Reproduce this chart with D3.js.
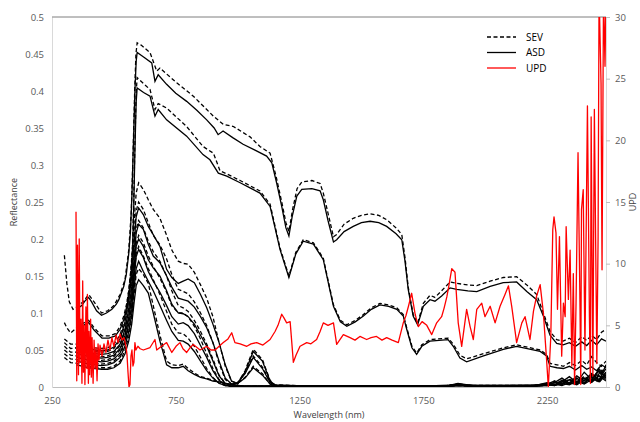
<!DOCTYPE html>
<html>
<head>
<meta charset="utf-8">
<script src="https://cdn.jsdelivr.net/npm/d3@7"></script>
<style>
  body { margin: 0; background: #fff; }
  svg { display: block; font-family: "Open Sans", sans-serif; }
</style>
</head>
<body>
<div id="chart"></div>
<script>
// --- data (wavelength nm, reflectance) ---
const xTicks = [250, 750, 1250, 1750, 2250];
const yTicks = [0, 0.05, 0.1, 0.15, 0.2, 0.25, 0.3, 0.35, 0.4, 0.45, 0.5];
const y2Ticks = [0, 5, 10, 15, 20, 25, 30];

// bright targets, ASD / SEV
const asdA1 = [[350,0.105],[370,0.11],[385,0.117],[398,0.121],[410,0.115],[430,0.103],[450,0.097],[470,0.1],[492,0.105],[510,0.112],[520,0.118],[540,0.136],[550,0.152],[560,0.18],[567,0.21],[573,0.26],[579,0.33],[585,0.4],[590,0.44],[594,0.452],[620,0.446],[653,0.438],[666,0.413],[679,0.422],[713,0.409],[750,0.397],[794,0.386],[835,0.374],[875,0.361],[905,0.35],[921,0.341],[941,0.346],[980,0.337],[1022,0.328],[1070,0.32],[1117,0.312],[1138,0.303],[1158,0.275],[1178,0.244],[1195,0.215],[1207,0.204],[1220,0.23],[1239,0.258],[1259,0.267],[1300,0.268],[1333,0.265],[1346,0.253],[1365,0.225],[1387,0.196],[1400,0.199],[1430,0.21],[1467,0.217],[1500,0.222],[1535,0.224],[1570,0.222],[1602,0.217],[1640,0.207],[1663,0.199],[1676,0.17],[1689,0.132],[1709,0.096],[1727,0.084],[1750,0.109],[1777,0.118],[1797,0.116],[1824,0.123],[1858,0.134],[1885,0.132],[1930,0.13],[1966,0.129],[2020,0.136],[2073,0.141],[2127,0.142],[2168,0.129],[2208,0.118],[2235,0.096],[2262,0.07],[2289,0.059],[2315,0.057],[2340,0.06],[2365,0.055],[2390,0.061],[2410,0.056],[2430,0.063],[2450,0.057],[2470,0.065],[2488,0.062]];
const sevA1 = [[300,0.178],[310,0.14],[320,0.115],[335,0.105],[350,0.108],[375,0.115],[398,0.125],[420,0.115],[450,0.1],[475,0.103],[500,0.11],[525,0.125],[545,0.145],[560,0.185],[570,0.235],[577,0.31],[584,0.4],[589,0.45],[594,0.465],[610,0.462],[646,0.452],[673,0.427],[686,0.431],[754,0.411],[821,0.393],[902,0.366],[942,0.355],[983,0.352],[1050,0.338],[1090,0.325],[1131,0.316],[1155,0.285],[1178,0.25],[1195,0.222],[1207,0.21],[1222,0.24],[1240,0.268],[1259,0.277],[1300,0.279],[1333,0.275],[1346,0.262],[1365,0.235],[1387,0.203],[1400,0.206],[1430,0.22],[1467,0.228],[1500,0.232],[1535,0.234],[1570,0.232],[1602,0.226],[1640,0.215],[1663,0.206],[1676,0.175],[1689,0.135],[1709,0.098],[1727,0.086],[1750,0.113],[1777,0.124],[1797,0.121],[1824,0.13],[1858,0.142],[1885,0.14],[1930,0.138],[1966,0.137],[2020,0.143],[2073,0.148],[2127,0.149],[2168,0.138],[2208,0.125],[2235,0.1],[2262,0.075],[2289,0.064],[2315,0.062],[2340,0.066],[2365,0.06],[2390,0.068],[2410,0.063],[2430,0.07],[2450,0.064],[2470,0.074],[2488,0.078]];
const asdA2 = [[350,0.077],[375,0.083],[398,0.087],[420,0.077],[452,0.066],[480,0.066],[506,0.069],[525,0.078],[540,0.091],[552,0.108],[560,0.123],[568,0.145],[575,0.18],[580,0.24],[585,0.32],[590,0.385],[594,0.404],[620,0.398],[646,0.393],[666,0.366],[679,0.375],[713,0.361],[794,0.339],[860,0.314],[888,0.307],[922,0.289],[956,0.285],[1010,0.276],[1050,0.269],[1090,0.262],[1131,0.244],[1171,0.186],[1207,0.148],[1235,0.18],[1265,0.197],[1306,0.193],[1346,0.172],[1370,0.135],[1387,0.109],[1415,0.088],[1441,0.082],[1475,0.088],[1508,0.096],[1540,0.105],[1575,0.111],[1610,0.109],[1643,0.105],[1669,0.096],[1683,0.078],[1704,0.053],[1723,0.044],[1744,0.055],[1777,0.062],[1850,0.064],[1871,0.055],[1898,0.039],[1925,0.034],[1993,0.042],[2073,0.051],[2127,0.055],[2222,0.048],[2248,0.042],[2262,0.028],[2290,0.026],[2316,0.025],[2340,0.028],[2365,0.023],[2390,0.029],[2410,0.024],[2430,0.027],[2450,0.022],[2470,0.03],[2488,0.026]];
const sevA2 = [[300,0.087],[310,0.08],[325,0.073],[350,0.08],[375,0.086],[398,0.09],[420,0.08],[452,0.069],[480,0.069],[506,0.072],[525,0.082],[540,0.096],[552,0.113],[560,0.13],[568,0.155],[575,0.19],[580,0.25],[585,0.33],[590,0.398],[594,0.418],[620,0.41],[646,0.402],[666,0.375],[679,0.383],[713,0.377],[794,0.352],[860,0.325],[902,0.316],[929,0.292],[956,0.288],[1010,0.279],[1050,0.272],[1090,0.265],[1131,0.247],[1171,0.188],[1207,0.15],[1235,0.182],[1265,0.199],[1306,0.195],[1346,0.174],[1370,0.137],[1387,0.111],[1415,0.09],[1441,0.084],[1475,0.09],[1508,0.098],[1540,0.107],[1575,0.113],[1610,0.111],[1643,0.107],[1669,0.098],[1683,0.08],[1704,0.055],[1723,0.046],[1744,0.057],[1777,0.064],[1850,0.066],[1871,0.058],[1898,0.043],[1925,0.038],[1993,0.045],[2073,0.053],[2127,0.057],[2222,0.05],[2248,0.044],[2262,0.032],[2290,0.03],[2316,0.028],[2340,0.033],[2365,0.029],[2390,0.036],[2410,0.03],[2430,0.041],[2450,0.033],[2470,0.028],[2488,0.035]];

// dark targets share one wavelength grid
const gridB = [350,375,400,425,450,475,500,525,545,560,572,582,590,600,619,639,659,686,713,734,760,780,800,825,850,875,900,925,950,975,1000,1030,1063,1100,1131,1150,
  1300,1500,1700,1850,1890,1950,2100,2200,2250,2280,2310,2340,2370,2400,2430,2460,2488];
const gridSev = [300, 325].concat(gridB);

const asdB6 = [0.055,0.053,0.052,0.05,0.049,0.05,0.054,0.065,0.088,0.118,0.15,0.195,0.23,0.242,0.233,0.217,0.206,0.19,0.159,0.148,0.14,0.143,0.146,0.141,0.125,0.107,0.085,0.06,0.03,0.008,0.004,0.02,0.048,0.035,0.008,0.003,
  0.001,0.001,0.001,0.001,0.002,0.001,0.001,0.001,0.003,0.002,0.005,0.003,0.008,0.004,0.01,0.022,0.012];
const sevB6 = [0.065,0.058,0.058,0.056,0.055,0.053,0.052,0.053,0.058,0.07,0.095,0.13,0.17,0.225,0.262,0.276,0.267,0.253,0.24,0.228,0.205,0.185,0.17,0.167,0.166,0.155,0.138,0.12,0.095,0.06,0.028,0.008,0.005,0.022,0.051,0.037,0.009,0.003,
  0.001,0.001,0.001,0.002,0.003,0.001,0.001,0.002,0.002,0.006,0.003,0.009,0.004,0.012,0.007,0.016,0.028];
const asdB5 = [0.05,0.048,0.046,0.045,0.044,0.045,0.048,0.058,0.078,0.105,0.135,0.175,0.208,0.22,0.213,0.193,0.177,0.168,0.15,0.135,0.12,0.118,0.116,0.108,0.095,0.08,0.06,0.035,0.012,0.004,0.006,0.018,0.04,0.025,0.006,0.002,
  0.001,0.001,0.001,0.001,0.002,0.001,0.001,0.001,0.002,0.004,0.002,0.006,0.003,0.009,0.018,0.008,0.03];
const sevB5 = [0.06,0.052,0.053,0.051,0.049,0.048,0.047,0.048,0.052,0.063,0.085,0.118,0.155,0.205,0.238,0.25,0.24,0.222,0.205,0.192,0.173,0.152,0.132,0.129,0.126,0.115,0.1,0.083,0.06,0.032,0.01,0.004,0.006,0.02,0.042,0.027,0.007,0.002,
  0.001,0.001,0.001,0.001,0.002,0.001,0.002,0.001,0.004,0.002,0.007,0.004,0.011,0.005,0.009,0.02,0.01];
const asdB4 = [0.045,0.043,0.041,0.04,0.039,0.04,0.043,0.052,0.07,0.095,0.122,0.16,0.19,0.2,0.19,0.172,0.161,0.15,0.13,0.112,0.1,0.099,0.095,0.085,0.07,0.055,0.035,0.015,0.005,0.003,0.005,0.012,0.026,0.016,0.004,0.001,
  0.001,0.001,0.001,0.001,0.003,0.001,0.001,0.002,0.005,0.002,0.007,0.014,0.006,0.02,0.01,0.024,0.013];
const sevB4 = [0.055,0.047,0.047,0.045,0.043,0.042,0.041,0.042,0.046,0.056,0.076,0.105,0.137,0.18,0.213,0.225,0.215,0.197,0.183,0.17,0.15,0.13,0.11,0.107,0.102,0.09,0.075,0.058,0.038,0.016,0.005,0.003,0.005,0.013,0.028,0.018,0.004,0.001,
  0.001,0.001,0.001,0.002,0.003,0.002,0.001,0.002,0.003,0.007,0.003,0.01,0.005,0.015,0.007,0.026,0.015];
const asdB3 = [0.04,0.038,0.036,0.035,0.034,0.035,0.038,0.046,0.063,0.085,0.11,0.148,0.176,0.186,0.175,0.156,0.143,0.128,0.11,0.095,0.085,0.087,0.083,0.072,0.056,0.04,0.022,0.009,0.003,0.001,0.001,0.001,0.001,0.001,0.001,0.001,
  0.001,0.001,0.001,0.001,0.003,0.001,0.001,0.002,0.003,0.006,0.012,0.005,0.015,0.008,0.018,0.01,0.025];
const sevB3 = [0.05,0.043,0.042,0.04,0.038,0.037,0.036,0.037,0.041,0.05,0.068,0.093,0.122,0.163,0.194,0.205,0.195,0.177,0.163,0.147,0.128,0.11,0.1,0.1,0.095,0.082,0.065,0.045,0.025,0.01,0.003,0.001,0.001,0.001,0.001,0.001,0.001,0.001,
  0.001,0.001,0.001,0.001,0.003,0.001,0.001,0.001,0.004,0.003,0.008,0.004,0.012,0.006,0.016,0.009,0.02];
const asdB2 = [0.035,0.033,0.031,0.03,0.029,0.03,0.033,0.04,0.055,0.075,0.098,0.135,0.16,0.17,0.156,0.143,0.13,0.11,0.09,0.075,0.063,0.062,0.058,0.048,0.035,0.022,0.012,0.005,0.002,0.001,0.001,0.001,0.001,0.001,0.001,0.001,
  0.001,0.001,0.001,0.002,0.004,0.002,0.002,0.002,0.006,0.003,0.009,0.004,0.012,0.005,0.014,0.007,0.02];
const sevB2 = [0.045,0.038,0.037,0.035,0.033,0.032,0.031,0.032,0.035,0.043,0.06,0.082,0.108,0.15,0.18,0.19,0.177,0.16,0.145,0.125,0.102,0.085,0.073,0.072,0.066,0.055,0.04,0.025,0.013,0.005,0.002,0.001,0.001,0.001,0.001,0.001,0.001,0.001,
  0.001,0.001,0.001,0.002,0.004,0.002,0.001,0.002,0.003,0.008,0.004,0.011,0.005,0.013,0.008,0.018,0.009];
const asdB1 = [0.03,0.028,0.026,0.025,0.024,0.024,0.026,0.032,0.045,0.062,0.085,0.115,0.137,0.145,0.137,0.127,0.1,0.062,0.03,0.026,0.026,0.028,0.022,0.017,0.013,0.011,0.008,0.007,0.005,0.003,0.002,0.001,0.001,0.001,0.001,0.001,
  0.001,0.001,0.001,0.002,0.005,0.002,0.002,0.003,0.004,0.008,0.003,0.01,0.005,0.012,0.006,0.015,0.008];
const sevB1 = [0.04,0.033,0.032,0.03,0.028,0.027,0.026,0.026,0.028,0.035,0.05,0.068,0.093,0.127,0.152,0.16,0.152,0.14,0.11,0.07,0.035,0.03,0.029,0.031,0.025,0.019,0.014,0.012,0.009,0.007,0.005,0.003,0.002,0.001,0.001,0.001,0.001,0.001,
  0.001,0.001,0.001,0.002,0.004,0.002,0.002,0.002,0.005,0.003,0.009,0.004,0.011,0.005,0.013,0.006,0.017];

// UPD on secondary axis (wavelength nm, UPD)
const upd = [[347,14.2],[350,0.5],[353,11.5],[357,1],[360,12],[363,2],[367,5.5],[371,0.3],[374,8.6],[377,1.2],[380,5],[383,0.2],[387,6.5],[391,1.5],[393,7.5],[397,0.3],[399,4.5],[402,1],[406,5.5],[409,0.8],[412,4],[416,0.3],[420,3.8],[424,1.5],[428,3.2],[432,0.5],[436,3.5],[440,2.2],[444,3.4],[452,2.5],[460,3.5],[468,2.8],[476,3.8],[484,3.0],[492,4.0],[500,3.3],[509,4.2],[517,3.6],[525,4.3],[533,3.8],[541,4.0],[549,3.3],[553,2.6],[557,1.2],[561,0],[565,0.2],[569,2.5],[573,3.0],[577,1.7],[581,2.0],[585,3.6],[589,3.0],[597,3.3],[606,3.1],[619,3.0],[646,3.2],[666,3.85],[673,3.0],[686,3.2],[713,3.6],[734,2.8],[751,3.3],[767,3.6],[779,3.1],[794,2.8],[808,3.2],[821,3.45],[848,3.0],[875,3.3],[892,3.0],[909,3.0],[925,3.3],[942,3.6],[961,3.9],[976,4.4],[989,3.6],[1010,3.5],[1037,3.3],[1054,3.5],[1077,3.6],[1102,3.4],[1131,3.85],[1151,4.5],[1163,5.0],[1178,5.9],[1187,5.6],[1198,5.2],[1212,5.3],[1225,2.0],[1236,2.6],[1252,3.3],[1279,3.6],[1296,3.5],[1319,3.85],[1333,4.5],[1346,5.2],[1365,5.0],[1387,5.2],[1400,3.45],[1427,4.25],[1454,4.0],[1474,3.8],[1494,4.1],[1521,3.85],[1539,4.0],[1561,4.1],[1583,3.8],[1602,4.0],[1624,3.8],[1649,3.6],[1669,5.2],[1680,5.8],[1690,6.55],[1703,7.6],[1717,5.9],[1730,4.9],[1745,5.3],[1764,5.0],[1784,4.25],[1804,5.2],[1824,5.7],[1834,6.4],[1845,7.3],[1854,8.3],[1865,9.6],[1878,9.3],[1891,5.2],[1905,3.3],[1925,6.3],[1939,4.9],[1952,3.85],[1966,6.3],[1986,6.8],[1999,5.7],[2020,6.55],[2040,5.2],[2060,6.55],[2080,7.5],[2094,8.2],[2107,6.55],[2127,3.6],[2148,5.2],[2161,5.7],[2181,3.85],[2195,6.15],[2208,7.4],[2222,8.3],[2235,6.0],[2248,2.2],[2255,0],[2265,4.1],[2273,12.75],[2278,13.8],[2286,12.5],[2292,6.3],[2300,12.2],[2309,2.5],[2316,6.8],[2323,5.7],[2327,13.0],[2336,7.1],[2343,11.1],[2350,1.7],[2356,9.2],[2361,0.2],[2367,6.8],[2375,19.0],[2383,6.5],[2386,0.2],[2389,14.4],[2396,16.0],[2403,3.0],[2413,22.8],[2421,5.7],[2425,0.3],[2428,21.9],[2435,0.9],[2441,22.5],[2451,1.9],[2456,12],[2460,32],[2468,24.6],[2472,9.5],[2478,32],[2484,26],[2488,32]];

const legendItems = [
  { label: 'SEV', color: '#000', dash: '4,2.5' },
  { label: 'ASD', color: '#000', dash: null },
  { label: 'UPD', color: '#ff0000', dash: null }
];

// --- chart ---
const width = 640;
const height = 422;
const plot = { left: 52, right: 606, top: 17, bottom: 387 };

const svg = d3.select('#chart').append('svg')
  .attr('width', width)
  .attr('height', height);

const x = d3.scaleLinear().domain([250, 2488]).range([plot.left, plot.right]);
const y = d3.scaleLinear().domain([0, 0.5]).range([plot.bottom, plot.top]);
const y2 = d3.scaleLinear().domain([0, 30]).range([plot.bottom, plot.top]);

svg.append('defs').append('clipPath').attr('id', 'plot-clip')
  .append('rect')
  .attr('x', plot.left).attr('y', plot.top)
  .attr('width', plot.right - plot.left).attr('height', plot.bottom - plot.top);

// Axes
const fmt = d => String(+d.toFixed(2));

const gx = svg.append('g')
  .attr('transform', `translate(0,${plot.bottom})`)
  .call(d3.axisBottom(x).tickValues(xTicks).tickFormat(fmt).tickSize(0).tickPadding(10));
gx.select('.domain').attr('stroke', '#bfbfbf');

const gy = svg.append('g')
  .attr('transform', `translate(${plot.left},0)`)
  .call(d3.axisLeft(y).tickValues(yTicks).tickFormat(fmt).tickSize(0).tickPadding(8));
gy.select('.domain').attr('stroke', '#d9d9d9');

const gy2 = svg.append('g')
  .attr('transform', `translate(${plot.right},0)`)
  .call(d3.axisRight(y2).tickValues(y2Ticks).tickFormat(fmt).tickSizeInner(4).tickSizeOuter(0).tickPadding(5));
gy2.select('.domain').attr('stroke', '#d9d9d9');
gy2.selectAll('.tick line').attr('stroke', '#bfbfbf');

svg.selectAll('.tick text')
  .attr('fill', '#595959')
  .attr('font-size', '9.5px')
  .attr('font-family', '"Open Sans", sans-serif');

// top border
svg.append('line')
  .attr('x1', plot.left).attr('x2', plot.right)
  .attr('y1', plot.top).attr('y2', plot.top)
  .attr('stroke', '#7f7f7f').attr('stroke-width', 1);

// Axis titles
svg.append('text')
  .attr('transform', `translate(17,${(plot.top + plot.bottom) / 2}) rotate(-90)`)
  .attr('text-anchor', 'middle')
  .attr('font-size', '9px')
  .attr('fill', '#404040')
  .text('Reflectance');

svg.append('text')
  .attr('transform', `translate(636,${(plot.top + plot.bottom) / 2}) rotate(-90)`)
  .attr('text-anchor', 'middle')
  .attr('font-size', '9px')
  .attr('fill', '#404040')
  .text('UPD');

svg.append('text')
  .attr('x', (plot.left + plot.right) / 2)
  .attr('y', 418)
  .attr('text-anchor', 'middle')
  .attr('font-size', '9px')
  .attr('fill', '#404040')
  .text('Wavelength (nm)');

// Lines
const g = svg.append('g').attr('clip-path', 'url(#plot-clip)');
const line = d3.line().x(d => x(d[0])).y(d => y(d[1]));
const line2 = d3.line().x(d => x(d[0])).y(d => y2(d[1]));
const zip = (w, v) => w.map((wl, i) => [wl, v[i]]);

const solids = [asdB1, asdB2, asdB3, asdB4, asdB5, asdB6].map(v => zip(gridB, v)).concat([asdA1, asdA2]);
const dashes = [sevB1, sevB2, sevB3, sevB4, sevB5, sevB6].map(v => zip(gridSev, v)).concat([sevA1, sevA2]);

dashes.forEach(d => {
  g.append('path')
    .attr('d', line(d))
    .attr('fill', 'none')
    .attr('stroke', '#000')
    .attr('stroke-width', 1.3)
    .attr('stroke-dasharray', '4,2.5');
});

solids.forEach(d => {
  g.append('path')
    .attr('d', line(d))
    .attr('fill', 'none')
    .attr('stroke', '#000')
    .attr('stroke-width', 1.3);
});

g.append('path')
  .attr('d', line2(upd))
  .attr('fill', 'none')
  .attr('stroke', '#ff0000')
  .attr('stroke-width', 1.3)
  .attr('stroke-linejoin', 'round');

// Legend
const legend = svg.append('g').attr('transform', 'translate(487,37)');
legendItems.forEach((it, i) => {
  const row = legend.append('g').attr('transform', `translate(0,${i * 15.5})`);
  row.append('line')
    .attr('x1', 0).attr('x2', 29)
    .attr('stroke', it.color)
    .attr('stroke-width', 1.3)
    .attr('stroke-dasharray', it.dash);
  row.append('text')
    .attr('x', 39)
    .attr('dy', '0.35em')
    .attr('font-size', '10px')
    .attr('fill', '#000')
    .text(it.label);
});
</script>
</body>
</html>
